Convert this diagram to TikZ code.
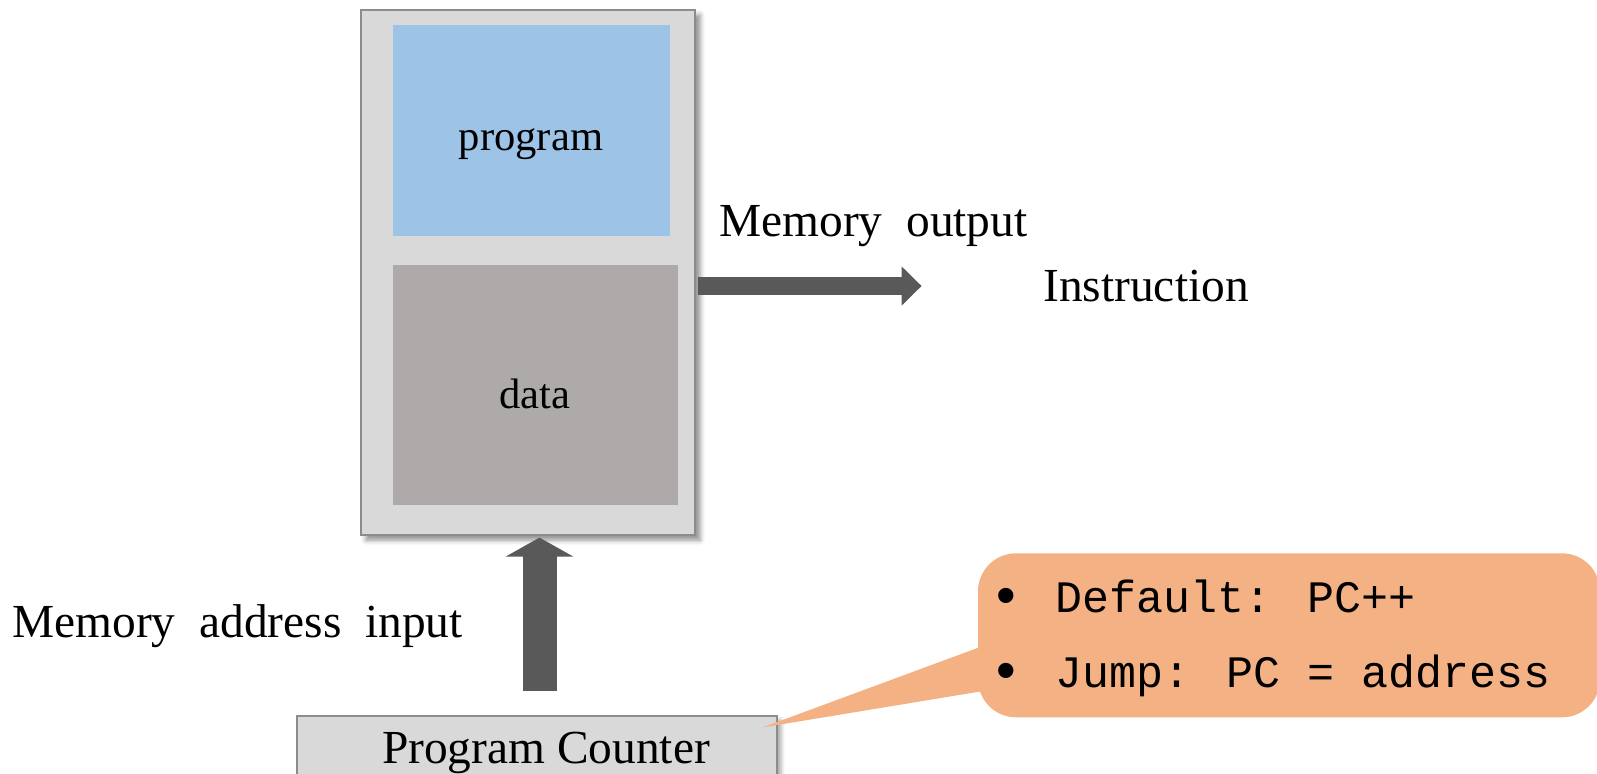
\documentclass[tikz,border=0pt]{standalone}
\usepackage{fontspec}
\setmainfont{Liberation Serif}
\newfontfamily\monofont{Liberation Mono}
\usetikzlibrary{arrows.meta,calc,shadows.blur}
\definecolor{boxgray}{HTML}{D9D9D9}
\definecolor{edgegray}{HTML}{8C8C8C}
\definecolor{progblue}{HTML}{9DC3E6}
\definecolor{datagray}{HTML}{AEAAAA}
\definecolor{arrowgray}{HTML}{595959}
\definecolor{calloutfill}{HTML}{F4B183}
\begin{document}
\begin{tikzpicture}[x=0.5pt,y=-0.5pt,
  membox/.style={draw=edgegray, line width=0.6pt, fill=boxgray, inner sep=0pt,
    minimum width=167pt, minimum height=262.5pt,
    blur shadow={shadow xshift=2.5pt, shadow yshift=-2.5pt, shadow blur radius=2.5pt, shadow opacity=45}},
  progbox/.style={fill=progblue, inner sep=0pt, minimum width=138.5pt, minimum height=105.5pt},
  databox/.style={fill=datagray, inner sep=0pt, minimum width=142.5pt, minimum height=119.75pt},
  pcbox/.style={draw=edgegray, line width=0.6pt, fill=boxgray, inner sep=0pt,
    minimum width=240pt, minimum height=35pt,
    blur shadow={shadow xshift=2pt, shadow yshift=-2pt, shadow blur radius=2pt, shadow opacity=35}},
  callbox/.style={fill=calloutfill, rounded corners=19pt, inner sep=0pt,
    minimum width=311pt, minimum height=82pt},
  lbl/.style={inner sep=0pt, font=\fontsize{23.7}{28}\selectfont},
  smalllbl/.style={inner sep=0pt, font=\fontsize{21.3}{25}\selectfont},
  monolbl/.style={inner sep=0pt, font=\monofont\fontsize{22.5}{27}\selectfont},
  blockarrow/.style={draw=arrowgray, line cap=butt}
]
\useasboundingbox (0,0) rectangle (1597,773);

% memory
\node[membox] (mem) at (528,272.5) {};
\node[progbox] (prog) at (531.5,130.5) {};
\node[databox] (data) at (535.5,384.75) {};
\node[smalllbl, anchor=base] (progtxt) at (531,150) {program};
\node[smalllbl, anchor=base] (datatxt) at (535,408) {data};

% program counter
\node[pcbox] (pc) at (537,751) {};
\node[lbl, anchor=base] (pctxt) at (546,763) {Program Counter};

% up arrow
\coordinate (inbot) at ($(pc.north)+(2.5,-24)$);
\draw[blockarrow, line width=17pt, -{Triangle[width=33.5pt,length=9.5pt]}]
  (inbot) -- ($(inbot |- mem.south)+(0,2)$);

% right arrow
\coordinate (outstart) at ($(mem.east)+(2,13.5)$);
\coordinate (outend) at ($(outstart)+(224,0)$);
\draw[blockarrow, line width=9pt, -{Triangle[width=19pt,length=10pt]}]
  (outstart) -- (outend);

% labels
\node[lbl, anchor=base west] (memout) at (719,236.7) {Memory\ \ output};
\node[lbl, anchor=base west] (instr) at (1043,301.7) {Instruction};
\node[lbl, anchor=base west] (memin) at (12,637) {Memory\ \ address\ \ input};

% callout
\node[callbox] (call) at (1289,635.3) {};
\fill[calloutfill] ($(call.west)+(22,4.5)$) -- ($(call.west)+(22,53)$) -- ($(pc.north east)+(-15,12)$) -- cycle;
\node[monolbl, anchor=base west] (line1) at (989,612) {\makebox[33pt][l]{\fontsize{28}{28}\selectfont\raisebox{-1.2pt}{•}}Default: PC++};
\node[monolbl, anchor=base west] (line2) at (989,687) {\makebox[33pt][l]{\fontsize{28}{28}\selectfont\raisebox{-1.2pt}{•}}Jump: PC = address};
\end{tikzpicture}
\end{document}
